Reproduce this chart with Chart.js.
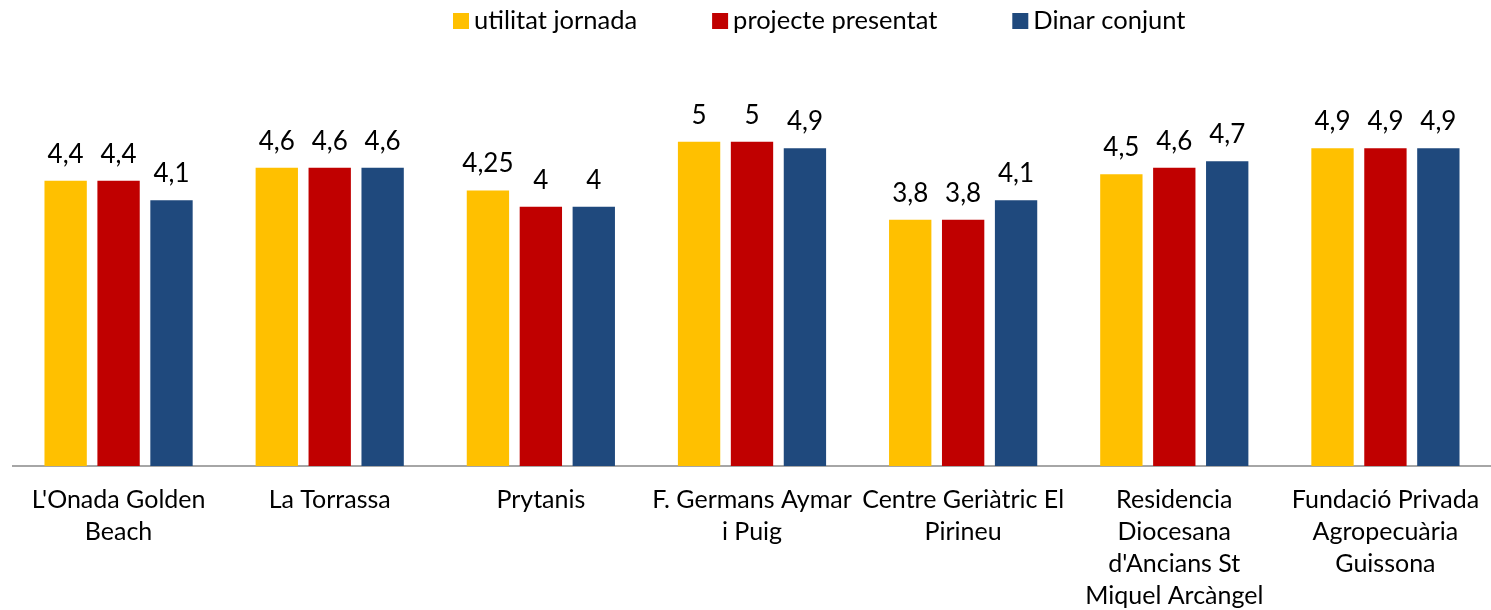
<!DOCTYPE html>
<html>
<head>
<meta charset="utf-8">
<script src="https://cdn.jsdelivr.net/npm/chart.js@4.4.1/dist/chart.umd.min.js"></script>
<style>
  html, body { margin: 0; padding: 0; background: #fff; }
  #wrap { width: 1491px; height: 610px; }
</style>
</head>
<body>
<div id="wrap"><canvas id="chart" width="1491" height="610"></canvas></div>
<script>
// dades
const categories = [
    ["L'Onada Golden", "Beach"],
    "La Torrassa",
    "Prytanis",
    ["F. Germans Aymar", "i Puig"],
    ["Centre Geriàtric El", "Pirineu"],
    ["Residencia", "Diocesana", "d'Ancians St", "Miquel Arcàngel"],
    ["Fundació Privada", "Agropecuària", "Guissona"]
];
const seriesNames = ['utilitat jornada', 'projecte presentat', 'Dinar conjunt'];
const utilitat = [4.4, 4.6, 4.25, 5, 3.8, 4.5, 4.9];
const projecte = [4.4, 4.6, 4, 5, 3.8, 4.6, 4.9];
const dinar = [4.1, 4.6, 4, 4.9, 4.1, 4.7, 4.9];
const colors = ['#FFC000', '#C00000', '#1F497D'];

const FONT = 'Lato, "Open Sans", sans-serif';

// etiquetes de valor a sobre de cada barra
const valueLabels = {
    id: 'valueLabels',
    afterDatasetsDraw(chart) {
        const c = chart.ctx;
        c.save();
        c.font = '26px ' + FONT;
        c.fillStyle = '#000';
        c.textAlign = 'center';
        c.textBaseline = 'alphabetic';
        chart.data.datasets.forEach((ds, i) => {
            chart.getDatasetMeta(i).data.forEach((bar, j) => {
                const txt = String(ds.data[j]).replace('.', ',');
                c.fillText(txt, bar.x, bar.y - 18);
            });
        });
        c.restore();
    }
};

// llegenda dibuixada a mà (separació ampla com a l'original)
const topLegend = {
    id: 'topLegend',
    afterDraw(chart) {
        const c = chart.ctx;
        c.save();
        c.font = '25.5px ' + FONT;
        c.textBaseline = 'middle';
        c.textAlign = 'left';
        let x = 453;
        const y = 21;
        chart.data.datasets.forEach((ds) => {
            c.fillStyle = ds.backgroundColor;
            c.fillRect(x, y - 8, 16, 16);
            c.fillStyle = '#000';
            c.fillText(ds.label, x + 21, y);
            x += 21 + c.measureText(ds.label).width + 75;
        });
        c.restore();
    }
};

new Chart(document.getElementById('chart').getContext('2d'), {
    type: 'bar',
    data: {
        labels: categories,
        datasets: [
            { label: seriesNames[0], data: utilitat, backgroundColor: colors[0] },
            { label: seriesNames[1], data: projecte, backgroundColor: colors[1] },
            { label: seriesNames[2], data: dinar, backgroundColor: colors[2] }
        ]
    },
    options: {
        responsive: false,
        animation: false,
        layout: { padding: { top: 77, left: 13, right: 0, bottom: 0 } },
        datasets: {
            bar: { categoryPercentage: 0.752, barPercentage: 0.8 }
        },
        plugins: {
            legend: { display: false },
            tooltip: { enabled: false }
        },
        scales: {
            x: {
                grid: { display: false },
                border: { display: true, color: '#A6A6A6', width: 2 },
                ticks: {
                    color: '#000',
                    font: { family: FONT, size: 25, lineHeight: 1.28 },
                    padding: 10,
                    maxRotation: 0,
                    autoSkip: false
                },
                afterFit(scale) { scale.height = 144; }
            },
            y: {
                display: false,
                min: 0,
                max: 6
            }
        }
    },
    plugins: [valueLabels, topLegend]
});
</script>
</body>
</html>
